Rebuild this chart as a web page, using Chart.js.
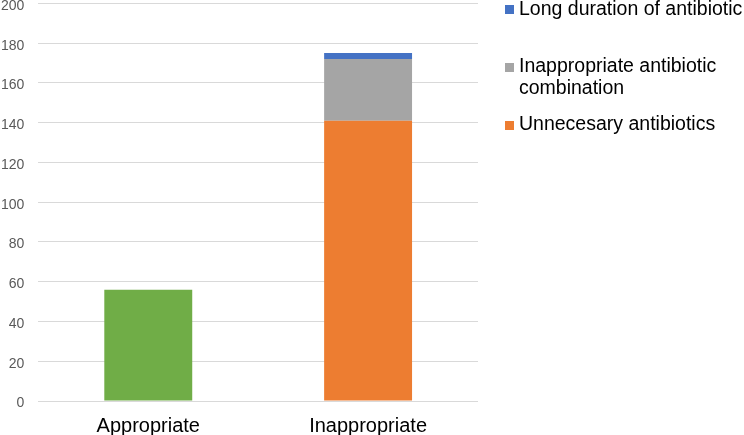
<!DOCTYPE html>
<html>
<head>
<meta charset="utf-8">
<script src="https://cdn.jsdelivr.net/npm/chart.js@4/dist/chart.umd.min.js"></script>
<style>
  html, body { margin: 0; padding: 0; background: #fff; }
  #wrap { position: relative; width: 744px; height: 435px; overflow: hidden; }
  #c { position: absolute; left: -13px; top: -19px; }
  .leg { position: absolute; font-family: "Liberation Sans", Arial, sans-serif; font-size: 19.5px; line-height: 21.5px; color: #000; white-space: nowrap; }
  .sw { position: absolute; width: 9px; height: 9px; }
</style>
</head>
<body>
<div id="wrap">
  <canvas id="c" width="757" height="462"></canvas>
  <div class="sw" style="left:505px;top:5px;background:#4472c4"></div>
  <div class="leg" style="left:519px;top:-2.5px">Long duration of antibiotic</div>
  <div class="sw" style="left:505px;top:63px;background:#a5a5a5"></div>
  <div class="leg" style="left:519px;top:55px">Inappropriate antibiotic<br>combination</div>
  <div class="sw" style="left:505px;top:121px;background:#ed7d31"></div>
  <div class="leg" style="left:519px;top:112.5px">Unnecesary antibiotics</div>
</div>
<script>
const categories = ['Appropriate', 'Inappropriate'];
const appropriateVals = [56, null];
const unnecessaryVals = [null, 141];
const combinationVals = [null, 31];
const longDurationVals = [null, 3];
const yMin = 0, yMax = 200, yStep = 20;

new Chart(document.getElementById('c'), {
  type: 'bar',
  data: {
    labels: categories,
    datasets: [
      { label: 'Appropriate', data: appropriateVals, backgroundColor: '#70ad47' },
      { label: 'Unnecesary antibiotics', data: unnecessaryVals, backgroundColor: '#ed7d31' },
      { label: 'Inappropriate antibiotic combination', data: combinationVals, backgroundColor: '#a5a5a5' },
      { label: 'Long duration of antibiotic', data: longDurationVals, backgroundColor: '#4472c4' }
    ]
  },
  options: {
    responsive: false,
    animation: false,
    events: [],
    layout: { padding: { top: 0, right: 266, left: 0, bottom: 0 } },
    plugins: { legend: { display: false }, tooltip: { enabled: false } },
    datasets: { bar: { categoryPercentage: 0.4, barPercentage: 1.0, skipNull: false } },
    scales: {
      x: {
        stacked: true,
        grid: { display: false },
        border: { display: false },
        ticks: { color: '#000', font: { family: 'Liberation Sans', size: 20 }, padding: 5 }
      },
      y: {
        stacked: true,
        min: yMin, max: yMax,
        grid: { color: '#d9d9d9', lineWidth: 1, drawTicks: false },
        border: { display: false },
        ticks: { stepSize: yStep, color: '#595959', font: { family: 'Liberation Sans', size: 14 }, padding: 14, labelOffset: 2.5 }
      }
    }
  }
});
</script>
</body>
</html>
